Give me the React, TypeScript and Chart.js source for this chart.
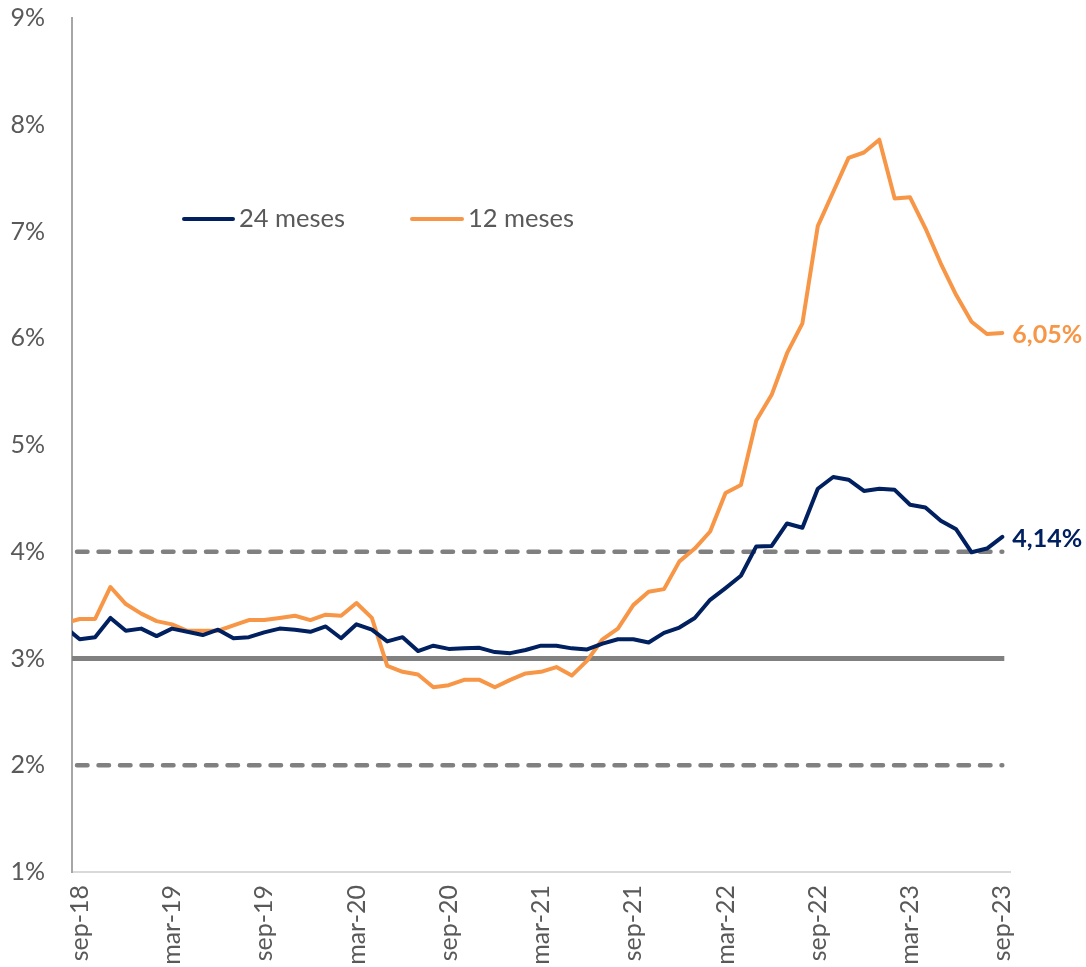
import React, { useEffect, useRef } from "react";
import { Chart, registerables } from "chart.js";

Chart.register(...registerables);

// Monthly labels (first one is only partly visible at the axis)
const months = [
  "ago-18", "sep-18", "oct-18", "nov-18", "dic-18",
  "ene-19", "feb-19", "mar-19", "abr-19", "may-19", "jun-19", "jul-19", "ago-19", "sep-19", "oct-19", "nov-19", "dic-19",
  "ene-20", "feb-20", "mar-20", "abr-20", "may-20", "jun-20", "jul-20", "ago-20", "sep-20", "oct-20", "nov-20", "dic-20",
  "ene-21", "feb-21", "mar-21", "abr-21", "may-21", "jun-21", "jul-21", "ago-21", "sep-21", "oct-21", "nov-21", "dic-21",
  "ene-22", "feb-22", "mar-22", "abr-22", "may-22", "jun-22", "jul-22", "ago-22", "sep-22", "oct-22", "nov-22", "dic-22",
  "ene-23", "feb-23", "mar-23", "abr-23", "may-23", "jun-23", "jul-23", "ago-23", "sep-23",
];

const tickLabelIndices = [0, 6, 12, 18, 24, 30, 36, 42, 48, 54, 60];

const series24 = [
  3.30, 3.18, 3.20, 3.38, 3.26, 3.28, 3.21, 3.28, 3.25, 3.22, 3.27, 3.19, 3.20,
  3.245, 3.28, 3.27, 3.25, 3.30, 3.19, 3.32, 3.27, 3.16, 3.20, 3.07, 3.12, 3.09,
  3.095, 3.10, 3.06, 3.05, 3.08, 3.12, 3.12, 3.095, 3.085, 3.14, 3.18, 3.18, 3.15,
  3.24, 3.29, 3.38, 3.55, 3.66, 3.775, 4.05, 4.055, 4.265, 4.225, 4.59, 4.70,
  4.675, 4.57, 4.59, 4.58, 4.44, 4.415, 4.29, 4.21, 3.995, 4.03, 4.14,
];

const series12 = [
  3.33, 3.37, 3.37, 3.67, 3.51, 3.42, 3.35, 3.32, 3.26, 3.26, 3.26, 3.31, 3.36,
  3.36, 3.38, 3.40, 3.36, 3.41, 3.40, 3.52, 3.38, 2.93, 2.875, 2.85, 2.73, 2.75,
  2.80, 2.80, 2.73, 2.80, 2.86, 2.875, 2.92, 2.84, 2.98, 3.18, 3.28, 3.50, 3.625,
  3.65, 3.91, 4.03, 4.19, 4.55, 4.625, 5.23, 5.47, 5.86, 6.14, 7.05, 7.37, 7.69,
  7.74, 7.86, 7.31, 7.32, 7.03, 6.70, 6.405, 6.155, 6.04, 6.05,
];

const seriesNames = ["24 meses", "12 meses"];
const endLabels = ["4,14%", "6,05%"];

// Target band: centre (solid) and limits (dashed)
const targetCenter = 3;
const targetLimits = [2, 4];

const NAVY = "#002060";
const ORANGE = "#F79646";
const GRAY_TEXT = "#595959";
const FONT = "Lato, 'Noto Sans', sans-serif";

const referencePlugin = {
  id: "referenceLines",
  beforeDatasetsDraw(chart: any) {
    const { ctx, chartArea, scales } = chart;
    const y = scales.y;
    const xEnd = scales.x.getPixelForValue(months.length - 2);
    ctx.save();
    ctx.strokeStyle = "#808080";
    ctx.lineWidth = 5;
    ctx.lineCap = "butt";
    ctx.beginPath();
    const yc = y.getPixelForValue(targetCenter);
    ctx.moveTo(chartArea.left, yc);
    ctx.lineTo(xEnd + 2, yc);
    ctx.stroke();
    ctx.lineWidth = 4.5;
    ctx.lineCap = "round";
    ctx.setLineDash([10.5, 11]);
    targetLimits.forEach((v) => {
      const yy = y.getPixelForValue(v);
      ctx.beginPath();
      ctx.moveTo(chartArea.left + 5, yy);
      ctx.lineTo(xEnd, yy);
      ctx.stroke();
    });
    ctx.restore();
  },
};

const annotatePlugin = {
  id: "annotate",
  afterDraw(chart: any) {
    const { ctx } = chart;
    ctx.save();
    const legend = [
      { x0: 184, x1: 233, tx: 239, color: NAVY, text: seriesNames[0] },
      { x0: 412, x1: 462, tx: 468, color: ORANGE, text: seriesNames[1] },
    ];
    const ly = 219;
    legend.forEach((l) => {
      ctx.strokeStyle = l.color;
      ctx.lineWidth = 4;
      ctx.lineCap = "round";
      ctx.beginPath();
      ctx.moveTo(l.x0, ly);
      ctx.lineTo(l.x1, ly);
      ctx.stroke();
      ctx.fillStyle = GRAY_TEXT;
      ctx.font = `25.5px ${FONT}`;
      ctx.textBaseline = "middle";
      ctx.textAlign = "left";
      ctx.fillText(l.text, l.tx, ly);
    });
    chart.data.datasets.forEach((ds: any, i: number) => {
      const meta = chart.getDatasetMeta(i);
      const pt = meta.data[meta.data.length - 1];
      ctx.fillStyle = ds.borderColor;
      ctx.font = `bold 25px ${FONT}`;
      ctx.textBaseline = "middle";
      ctx.textAlign = "left";
      ctx.fillText(endLabels[i], pt.x + 10, pt.y + 2);
    });
    ctx.restore();
  },
};

export default function App() {
  const ref = useRef<HTMLCanvasElement>(null);
  useEffect(() => {
    if (!ref.current) return;
    const toXY = (arr: number[]) => arr.map((v, i) => ({ x: i - 1, y: v }));
    const chart = new Chart(ref.current, {
      type: "line",
      data: {
        datasets: [
          {
            label: seriesNames[0],
            data: toXY(series24),
            borderColor: NAVY,
            backgroundColor: NAVY,
            borderWidth: 4,
            pointRadius: 0,
            borderJoinStyle: "round",
            borderCapStyle: "round",
            tension: 0,
          },
          {
            label: seriesNames[1],
            data: toXY(series12),
            borderColor: ORANGE,
            backgroundColor: ORANGE,
            borderWidth: 4,
            pointRadius: 0,
            borderJoinStyle: "round",
            borderCapStyle: "round",
            tension: 0,
          },
        ],
      },
      options: {
        responsive: false,
        animation: false,
        devicePixelRatio: 1,
        layout: { padding: { top: 18, right: 76, left: 0, bottom: 0 } },
        plugins: { legend: { display: false }, tooltip: { enabled: false } },
        scales: {
          x: {
            type: "linear",
            min: -0.5,
            max: months.length - 1.5,
            grid: { display: false, drawTicks: false },
            border: { display: true, color: "#D9D9D9", width: 2 },
            afterBuildTicks: (scale: any) => {
              scale.ticks = tickLabelIndices.map((v) => ({ value: v }));
            },
            afterFit: (scale: any) => {
              scale.height = 95;
              scale.paddingLeft = 0;
              scale.paddingRight = 0;
            },
            ticks: {
              autoSkip: false,
              minRotation: 90,
              maxRotation: 90,
              padding: 13,
              color: GRAY_TEXT,
              font: { family: FONT, size: 25 },
              callback: (v: any) => months[Number(v) + 1],
            },
          },
          y: {
            min: 1,
            max: 9,
            grid: { display: false, drawTicks: false },
            border: { display: true, color: "#A6A6A6", width: 2 },
            afterFit: (scale: any) => {
              scale.width = 72;
              scale.paddingTop = 0;
              scale.paddingBottom = 0;
            },
            ticks: {
              stepSize: 1,
              padding: 27,
              color: GRAY_TEXT,
              font: { family: FONT, size: 25 },
              callback: (v: any) => `${v}%`,
            },
          },
        },
      },
      plugins: [referencePlugin, annotatePlugin],
    } as any);
    return () => chart.destroy();
  }, []);
  return (
    <div style={{ position: "absolute", left: 0, top: 0, width: 1086, height: 967, background: "#fff" }}>
      <canvas ref={ref} width={1086} height={967} style={{ display: "block" }} />
    </div>
  );
}
